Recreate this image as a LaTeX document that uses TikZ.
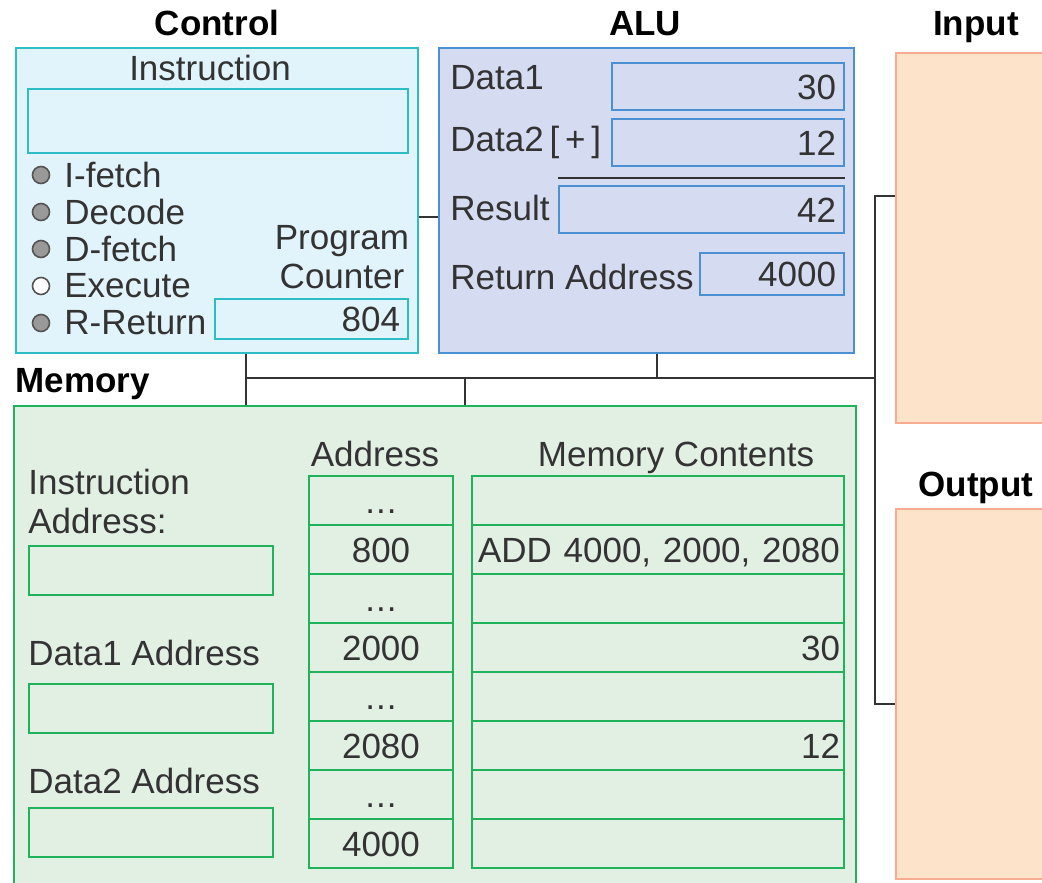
\documentclass[tikz,border=0pt]{standalone}
\usepackage{fontspec}
\setmainfont{Liberation Sans}
\usetikzlibrary{positioning}

\definecolor{txt}{HTML}{333333}
\definecolor{buscol}{HTML}{333333}
\definecolor{ctlfill}{HTML}{E1F3FB}
\definecolor{ctlline}{HTML}{2DBDC4}
\definecolor{alufill}{HTML}{D5DBF0}
\definecolor{aluline}{HTML}{4A90D2}
\definecolor{memfill}{HTML}{E2F0E4}
\definecolor{memline}{HTML}{20B25A}
\definecolor{iofill}{HTML}{FDE3C9}
\definecolor{ioline}{HTML}{F6AC8E}
\definecolor{lamp}{HTML}{999999}
\definecolor{lampline}{HTML}{555555}

\newcommand{\skipped}{.\kern0.5pt.\kern0.5pt.}

\begin{document}
\begin{tikzpicture}[x=0.5pt,y=-0.5pt]
 \useasboundingbox (0,0) rectangle (1042,882);
 \tikzstyle{every node}=[inner sep=0pt,text=txt,font=\fontsize{17.5}{19.5}\selectfont]
 \tikzstyle{title}=[anchor=base,text=black,font=\fontsize{17.5}{19.5}\selectfont\bfseries]
 \tikzstyle{unit}=[rectangle,anchor=north west,line width=1pt]
 \tikzstyle{cell}=[rectangle,anchor=north west,line width=1pt,inner xsep=4pt,align=right,text height=12.6pt,text depth=0pt]
 \tikzstyle{bus}=[draw=buscol,line width=1pt]

 % the four units
 \node[unit,draw=ctlline,fill=ctlfill,minimum width=201pt,minimum height=152.5pt] (control) at (15,47) {};
 \node[unit,draw=aluline,fill=alufill,minimum width=207.5pt,minimum height=152.5pt] (alu) at (438,47) {};
 \node[unit,draw=memline,fill=memfill,minimum width=421pt,minimum height=245pt] (memory) at (13,405) {};
 \node[unit,draw=ioline,fill=iofill,minimum width=80pt,minimum height=185pt] (input) at (895,52) {};
 \node[unit,draw=ioline,fill=iofill,minimum width=80pt,minimum height=185pt] (output) at (895,508) {};

 \node[title] (ctltitle) at (217,36) {Control};
 \node[title] (alutitle) at (645,36) {ALU};
 \node[title] (intitle) at (976,36) {Input};
 \node[title] (outtitle) at (976,496) {Output};
 \node[title,anchor=base west] (memtitle) at (15,392) {Memory};

 % control
 \node (instlabel) at (210,68) {Instruction};
 \node[unit,draw=ctlline,minimum width=190pt,minimum height=32pt] (instreg) at (27,88) {};
 \foreach \stage/\col [count=\i] in {I-fetch/lamp,Decode/lamp,D-fetch/lamp,Execute/white,R-Return/lamp} {
   \node[circle,draw=lampline,fill=\col,minimum size=8.5pt,line width=0.8pt] (lamp\i) at (41,{175+37*(\i-1)}) {};
   \node[anchor=west] (stage\i) at (64,{175+37*(\i-1)}) {\stage};
 }
 \node[align=center] (pclabel) at (342,257) {Program\\Counter};
 \node[cell,draw=ctlline,text width=88.5pt,minimum height=20pt] (pc) at (214,298) {804};

 % alu
 \node[anchor=west] (d1label) at (450,78) {Data1};
 \node[cell,draw=aluline,text width=108pt,minimum height=23.5pt] (data1) at (611,62) {30};
 \node[anchor=west] (d2label) at (450,142) {Data2\,[\,+\,]};
 \node[cell,draw=aluline,text width=108pt,minimum height=23.5pt] (data2) at (611,118) {12};
 \node[anchor=west] (reslabel) at (450,208) {Result};
 \node[cell,draw=aluline,text width=134.5pt,minimum height=23.5pt] (result) at (558,185) {42};
 \draw[buscol,line width=1pt] ([yshift=3.5pt]result.north west) -- ([yshift=3.5pt]result.north east);
 \node[anchor=west] (retlabel) at (450,277) {Return Address};
 \node[cell,draw=aluline,text width=64pt,minimum height=21pt] (retaddr) at (699,252) {4000};

 % memory
 \node[anchor=west,align=left] (ialabel) at (28,501) {Instruction\\Address:};
 \node[unit,draw=memline,minimum width=122pt,minimum height=24.5pt] (iareg) at (28,545) {};
 \node[anchor=west] (d1alabel) at (28,653) {Data1 Address};
 \node[unit,draw=memline,minimum width=122pt,minimum height=24.5pt] (d1areg) at (28,683) {};
 \node[anchor=west] (d2alabel) at (28,781) {Data2 Address};
 \node[unit,draw=memline,minimum width=122pt,minimum height=24.5pt] (d2areg) at (28,807) {};
 \node[anchor=base] (addrtitle) at (375,466) {Address};
 \node[anchor=base] (conttitle) at (676,466) {Memory Contents};
 \foreach \a [count=\i] in {\skipped,800,\skipped,2000,\skipped,2080,\skipped,4000}
   \node[unit,draw=memline,minimum width=72pt,minimum height=24.5pt,text height=12.6pt,text depth=0pt] (addr\i) at (308,{475+49*(\i-1)}) {\a};
 \foreach \c [count=\i] in {{},{ADD 4000, 2000, 2080},{},30,{},12,{},{}}
   \node[cell,draw=memline,inner xsep=2pt,text width=182pt,minimum height=24.5pt] (cont\i) at (471,{475+49*(\i-1)}) {\c};

 % buses
 \coordinate (j1) at (246,378);
 \coordinate (j2) at (465,378);
 \coordinate (j3) at (657,378);
 \coordinate (j4) at (875,378);
 \coordinate (jin) at (875,196);
 \coordinate (jout) at (875,704);
 \draw[bus] ([yshift=-8.25pt]control.east) -- ([yshift=-8.25pt]alu.west);
 \draw[bus] (control.south -| j1) -- (memory.north -| j1);
 \draw[bus] (j1) -- (j4);
 \draw[bus] (j2) -- (memory.north -| j2);
 \draw[bus] (alu.south -| j3) -- (j3);
 \draw[bus] (input.west |- jin) -- (jin) -- (jout) -- (output.west |- jout);
\end{tikzpicture}
\end{document}
